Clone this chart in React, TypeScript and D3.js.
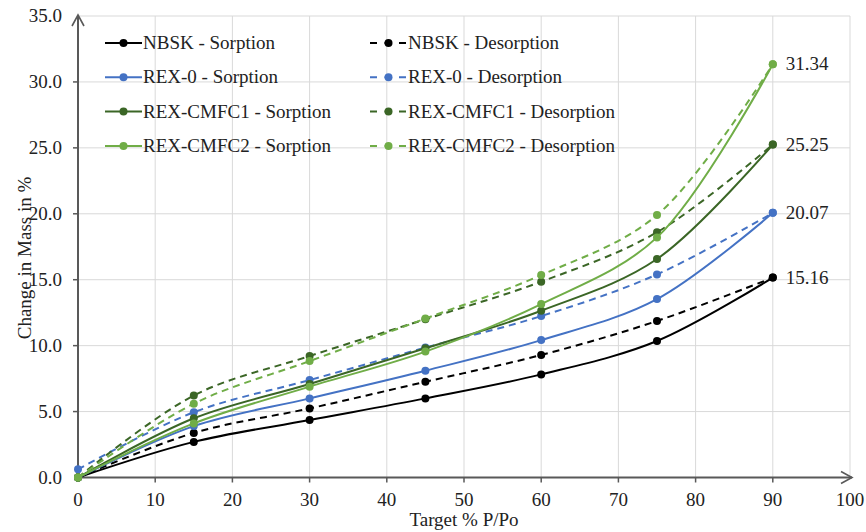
import React, { useEffect, useRef } from 'react';
import * as d3 from 'd3';

// Target relative humidity (% P/Po)
const targetRh = [0, 15, 30, 45, 60, 75, 90];

// Change in mass (%)
const nbskSorption = [0, 2.7, 4.36, 6.0, 7.82, 10.35, 15.16];
const nbskDesorption = [0, 3.38, 5.24, 7.26, 9.29, 11.87, 15.16];
const rex0Sorption = [0, 3.9, 6.0, 8.1, 10.42, 13.53, 20.07];
const rex0Desorption = [0.62, 4.95, 7.39, 9.85, 12.24, 15.4, 20.07];
const cmfc1Sorption = [0, 4.49, 7.09, 9.8, 12.65, 16.57, 25.25];
const cmfc1Desorption = [0, 6.22, 9.21, 12.0, 14.85, 18.6, 25.25];
const cmfc2Sorption = [0, 4.1, 6.89, 9.55, 13.15, 18.21, 31.34];
const cmfc2Desorption = [0, 5.6, 8.83, 12.05, 15.35, 19.9, 31.34];

const seriesNames = [
  'NBSK - Sorption', 'NBSK - Desorption',
  'REX-0 - Sorption', 'REX-0 - Desorption',
  'REX-CMFC1 - Sorption', 'REX-CMFC1 - Desorption',
  'REX-CMFC2 - Sorption', 'REX-CMFC2 - Desorption',
];
const seriesValues = [
  nbskSorption, nbskDesorption,
  rex0Sorption, rex0Desorption,
  cmfc1Sorption, cmfc1Desorption,
  cmfc2Sorption, cmfc2Desorption,
];
const endLabels = ['15.16', '20.07', '25.25', '31.34'];
const yTicks = [0, 5, 10, 15, 20, 25, 30, 35];
const xTicks = [0, 10, 20, 30, 40, 50, 60, 70, 80, 90, 100];

const W = 866;
const H = 532;
const FONT = '"Liberation Serif", "Times New Roman", serif';
const FS = '19px';
const colours = ['#000000', '#000000', '#4472c4', '#4472c4', '#3b6626', '#3b6626', '#70ad47', '#70ad47'];

const App = () => {
  const ref = useRef<SVGSVGElement | null>(null);

  useEffect(() => {
    const svg = d3.select(ref.current);
    svg.selectAll('*').remove();

    const x = d3.scaleLinear().domain([0, 100]).range([78, 850]);
    const y = d3.scaleLinear().domain([0, 35]).range([477.5, 16]);

    // grid
    const grid = svg.append('g');
    grid.selectAll('line.h')
      .data(yTicks.filter(d => d > 0))
      .enter().append('line')
      .attr('x1', x(0)).attr('x2', x(100))
      .attr('y1', d => y(d)).attr('y2', d => y(d))
      .attr('stroke', '#d9d9d9').attr('stroke-width', 1);
    grid.selectAll('line.v')
      .data(xTicks.filter(d => d > 0))
      .enter().append('line')
      .attr('x1', d => x(d)).attr('x2', d => x(d))
      .attr('y1', y(0)).attr('y2', y(35))
      .attr('stroke', '#d9d9d9').attr('stroke-width', 1);

    // axes with arrow heads
    const axisCol = '#595959';
    svg.append('line')
      .attr('x1', x(0)).attr('x2', x(100) + 2)
      .attr('y1', y(0)).attr('y2', y(0))
      .attr('stroke', axisCol).attr('stroke-width', 2);
    svg.append('path')
      .attr('d', `M${x(100) - 9},${y(0) - 6} L${x(100) + 2},${y(0)} L${x(100) - 9},${y(0) + 6}`)
      .attr('fill', 'none').attr('stroke', axisCol).attr('stroke-width', 1.6);
    svg.append('line')
      .attr('x1', x(0)).attr('x2', x(0))
      .attr('y1', y(0)).attr('y2', y(35) - 1)
      .attr('stroke', axisCol).attr('stroke-width', 2);
    svg.append('path')
      .attr('d', `M${x(0) - 6},${y(35) + 10} L${x(0)},${y(35) - 1} L${x(0) + 6},${y(35) + 10}`)
      .attr('fill', 'none').attr('stroke', axisCol).attr('stroke-width', 1.6);

    // ticks + labels
    svg.selectAll('line.xt')
      .data(xTicks.filter(d => d > 0 && d < 100))
      .enter().append('line')
      .attr('x1', d => x(d)).attr('x2', d => x(d))
      .attr('y1', y(0)).attr('y2', y(0) + 5)
      .attr('stroke', axisCol).attr('stroke-width', 1.5);
    svg.selectAll('text.xl')
      .data(xTicks)
      .enter().append('text')
      .attr('x', d => x(d)).attr('y', 506)
      .attr('text-anchor', 'middle')
      .style('font-family', FONT).style('font-size', FS).attr('fill', '#222')
      .text(d => d);
    svg.selectAll('line.yt')
      .data(yTicks.filter(d => d > 0 && d < 35))
      .enter().append('line')
      .attr('x1', x(0) - 5).attr('x2', x(0))
      .attr('y1', d => y(d)).attr('y2', d => y(d))
      .attr('stroke', axisCol).attr('stroke-width', 1.5);
    svg.selectAll('text.yl')
      .data(yTicks)
      .enter().append('text')
      .attr('x', 62).attr('y', d => y(d) + 6)
      .attr('text-anchor', 'end')
      .style('font-family', FONT).style('font-size', FS).attr('fill', '#222')
      .text(d => d.toFixed(1));

    // axis titles
    svg.append('text')
      .attr('x', (x(0) + x(100)) / 2).attr('y', 526)
      .attr('text-anchor', 'middle')
      .style('font-family', FONT).style('font-size', FS).attr('fill', '#222')
      .text('Target % P/Po');
    svg.append('text')
      .attr('transform', 'translate(31,258) rotate(-90)')
      .attr('text-anchor', 'middle')
      .style('font-family', FONT).style('font-size', FS).attr('fill', '#222')
      .text('Change in Mass in %');

    // series
    const line = d3.line<number>()
      .x((_, i) => x(targetRh[i]))
      .y(d => y(d))
      .curve(d3.curveCatmullRom.alpha(0.5));

    seriesValues.forEach((vals, s) => {
      const dashed = s % 2 === 1;
      const g = svg.append('g');
      g.append('path')
        .attr('d', line(vals))
        .attr('fill', 'none')
        .attr('stroke', colours[s])
        .attr('stroke-width', 2)
        .attr('stroke-dasharray', dashed ? '7,5' : null);
      g.selectAll('circle')
        .data(vals)
        .enter().append('circle')
        .attr('cx', (_, i) => x(targetRh[i]))
        .attr('cy', d => y(d))
        .attr('r', 4)
        .attr('fill', colours[s]);
    });

    // end value labels
    svg.selectAll('text.end')
      .data(endLabels)
      .enter().append('text')
      .attr('x', x(90) + 13)
      .attr('y', d => y(+d) + 6)
      .style('font-family', FONT).style('font-size', FS).attr('fill', '#222')
      .text(d => d);

    // legend
    const legend = svg.append('g');
    seriesNames.forEach((name, s) => {
      const row = Math.floor(s / 2);
      const col = s % 2;
      const ly = 43 + row * 34.3;
      const lx = col === 0 ? 105 : 370;
      const item = legend.append('g');
      item.append('line')
        .attr('x1', lx).attr('x2', lx + 37)
        .attr('y1', ly).attr('y2', ly)
        .attr('stroke', colours[s]).attr('stroke-width', 2)
        .attr('stroke-dasharray', col === 1 ? '7,7.5' : null);
      item.append('circle')
        .attr('cx', lx + 18.5).attr('cy', ly).attr('r', 4).attr('fill', colours[s]);
      item.append('text')
        .attr('x', lx + 38).attr('y', ly + 6)
        .style('font-family', FONT).style('font-size', FS).attr('fill', '#222')
        .text(name);
    });
  }, []);

  return (
    <div style={{ position: 'fixed', left: 0, top: 0, width: W, height: H, background: '#fff' }}>
      <svg ref={ref} width={W} height={H} style={{ display: 'block' }} />
    </div>
  );
};

export default App;
